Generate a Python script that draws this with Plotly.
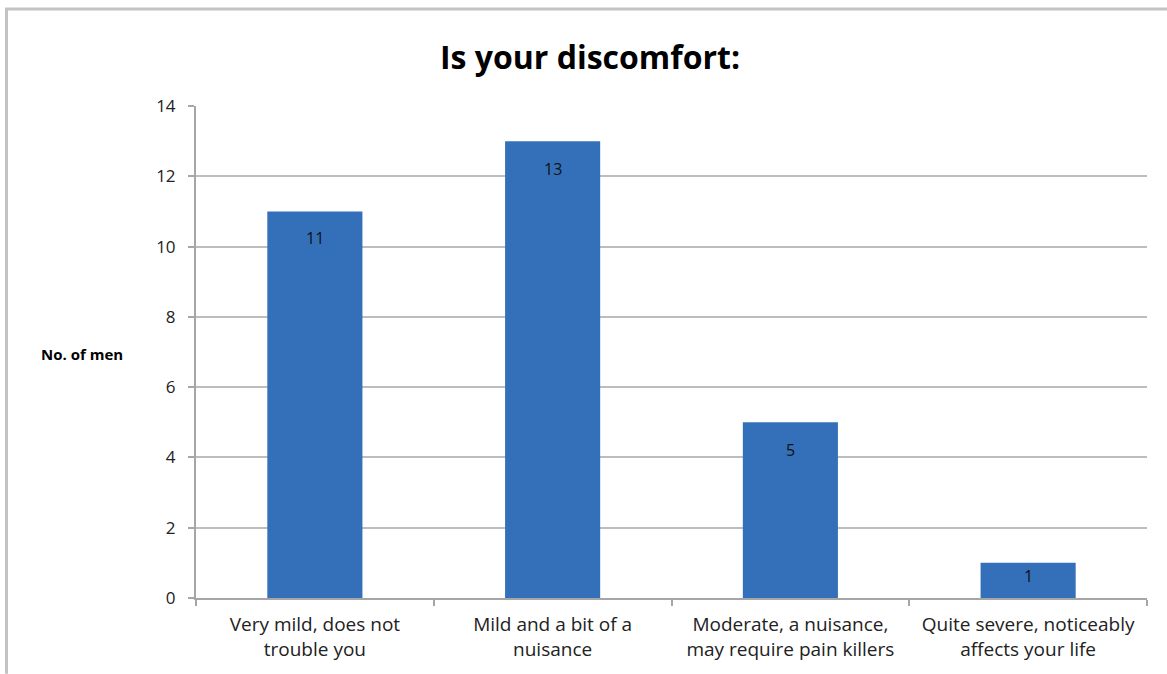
import plotly.graph_objects as go

categories = ["Very mild, does not<br>trouble you",
              "Mild and a bit of a<br>nuisance",
              "Moderate, a nuisance,<br>may require pain killers",
              "Quite severe, noticeably<br>affects your life"]
counts = [11, 13, 5, 1]
y_ticks = [0, 2, 4, 6, 8, 10, 12, 14]
label_shift = [-27, -28, -28, -13]

FONT = "Open Sans, Lato, sans-serif"
W, H = 1167, 674
L, R, T, B = 196, 20, 106, 74
pw, ph = W - L - R, H - T - B

def px_x(px):
    return (px - L) / pw

def px_y(py):
    return (H - B - py) / ph

fig = go.Figure()
fig.add_trace(go.Bar(
    x=categories, y=counts, width=0.4,
    marker=dict(color="#3470b9", line=dict(width=0)),
    hoverinfo="x+y",
))

for c, v, s in zip(categories, counts, label_shift):
    fig.add_annotation(x=c, y=v, text=str(v), showarrow=False,
                       yanchor="middle", yshift=s,
                       font=dict(family=FONT, size=16, color="#111"))

fig.add_annotation(xref="paper", yref="paper", x=px_x(82), y=px_y(355),
                   text="<b>No. of men</b>", showarrow=False,
                   xanchor="center", yanchor="middle",
                   font=dict(family=FONT, size=15, color="#000"))

border = "#c3c3c3"
fig.add_shape(type="line", xref="paper", yref="paper",
              x0=px_x(6.5), x1=px_x(6.5), y0=px_y(676), y1=px_y(8.5),
              line=dict(color=border, width=3))
fig.add_shape(type="line", xref="paper", yref="paper",
              x0=px_x(5), x1=px_x(1168), y0=px_y(8.5), y1=px_y(8.5),
              line=dict(color=border, width=3))

fig.update_layout(
    width=W, height=H,
    margin=dict(l=L, r=R, t=T, b=B),
    paper_bgcolor="white", plot_bgcolor="white",
    showlegend=False,
    bargap=0.6,
    title=dict(text="<b>Is your discomfort:</b>", x=590 / W, xanchor="center",
               y=1 - 58 / H, yanchor="middle",
               font=dict(family=FONT, size=32, color="#000")),
    font=dict(family=FONT, size=16, color="#222"),
)
fig.update_xaxes(type="category", showline=True, linecolor="#a6a6a6", linewidth=2,
                 ticks="outside", tickson="boundaries", ticklen=6, tickcolor="#a6a6a6",
                 tickwidth=2, tickfont=dict(family=FONT, size=19, color="#222"),
                 ticklabelstandoff=8, showgrid=False)
fig.update_yaxes(range=[0, 14], tickvals=y_ticks, showline=True, linecolor="#a6a6a6",
                 linewidth=2, ticks="outside", ticklen=6, tickcolor="#a6a6a6", tickwidth=2,
                 showgrid=True, gridcolor="#bdbdbd", gridwidth=2, zeroline=False,
                 ticklabelstandoff=9,
                 tickfont=dict(family=FONT, size=17, color="#222"))

fig.write_html("out.html")
